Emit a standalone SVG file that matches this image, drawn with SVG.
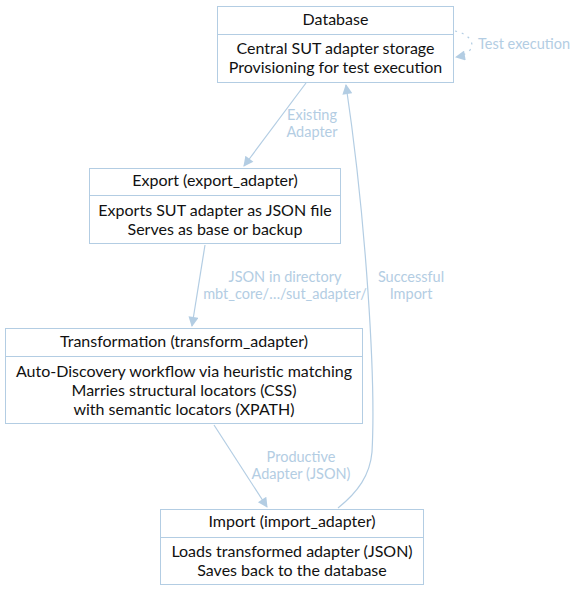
<svg xmlns="http://www.w3.org/2000/svg" width="577" height="592" viewBox="0 0 577 592">
<style>
.box{fill:#ffffff;stroke:#b3cde3;stroke-width:1}
.div{stroke:#b3cde3;stroke-width:1}
.t{font-family:Lato,"Liberation Sans",sans-serif;font-size:16px;fill:#111111;text-anchor:middle}
.e{fill:none;stroke:#b3cde3;stroke-width:1.2}
.l{font-family:Lato,"Liberation Sans",sans-serif;font-size:14.5px;fill:#b3cde3;text-anchor:middle}
</style>
<defs>
<marker id="ah" viewBox="0 0 10 10" refX="9" refY="5" markerWidth="12" markerHeight="10" markerUnits="userSpaceOnUse" orient="auto">
<path d="M0,0 L10,5 L0,10 z" fill="#b3cde3"/>
</marker>
</defs>
<rect width="577" height="592" fill="#ffffff"/>
<g id="connectors">
<path class="e" d="M306,83 L244,166" marker-end="url(#ah)"/>
<path class="e" d="M205,245 L192,326" marker-end="url(#ah)"/>
<path class="e" d="M214,425 L267,507" marker-end="url(#ah)"/>
<path class="e" d="M338,508 C358,492 370,475 372,452 C376,380 366,220 346,85" marker-end="url(#ah)"/>
<path class="e" stroke-dasharray="2,5" d="M455,31 C470,34 475,44 470,50 C466,54 462,56 456,57" marker-end="url(#ah)"/>
<text class="l" x="312" y="120">Existing</text>
<text class="l" x="312" y="137">Adapter</text>
<text class="l" x="285" y="282">JSON in directory</text>
<text class="l" x="285" y="299">mbt_core/…/sut_adapter/</text>
<text class="l" x="411" y="282">Successful</text>
<text class="l" x="411" y="299">Import</text>
<text class="l" x="301" y="462">Productive</text>
<text class="l" x="301" y="479">Adapter (JSON)</text>
<text class="l" x="524" y="49">Test execution</text>
</g>
<g id="database">
<rect class="box" x="217.5" y="6.5" width="236" height="76"/>
<line class="div" x1="217.5" y1="34.5" x2="453.5" y2="34.5"/>
<text class="t" x="335.5" y="25">Database</text>
<text class="t" x="335.5" y="54">Central SUT adapter storage</text>
<text class="t" x="335.5" y="73">Provisioning for test execution</text>
</g>
<g id="export">
<rect class="box" x="89.5" y="168.5" width="251" height="75"/>
<line class="div" x1="89.5" y1="195.5" x2="340.5" y2="195.5"/>
<text class="t" x="215" y="186">Export (export_adapter)</text>
<text class="t" x="215" y="216">Exports SUT adapter as JSON file</text>
<text class="t" x="215" y="235">Serves as base or backup</text>
</g>
<g id="transformation">
<rect class="box" x="5.5" y="328.5" width="357" height="95"/>
<line class="div" x1="5.5" y1="356.5" x2="362.5" y2="356.5"/>
<text class="t" x="184" y="347">Transformation (transform_adapter)</text>
<text class="t" x="184" y="377">Auto-Discovery workflow via heuristic matching</text>
<text class="t" x="184" y="396">Marries structural locators (CSS)</text>
<text class="t" x="184" y="415">with semantic locators (XPATH)</text>
</g>
<g id="import">
<rect class="box" x="160.5" y="509.5" width="263" height="75"/>
<line class="div" x1="160.5" y1="537.5" x2="423.5" y2="537.5"/>
<text class="t" x="292" y="527">Import (import_adapter)</text>
<text class="t" x="292" y="557">Loads transformed adapter (JSON)</text>
<text class="t" x="292" y="576">Saves back to the database</text>
</g>
</svg>
